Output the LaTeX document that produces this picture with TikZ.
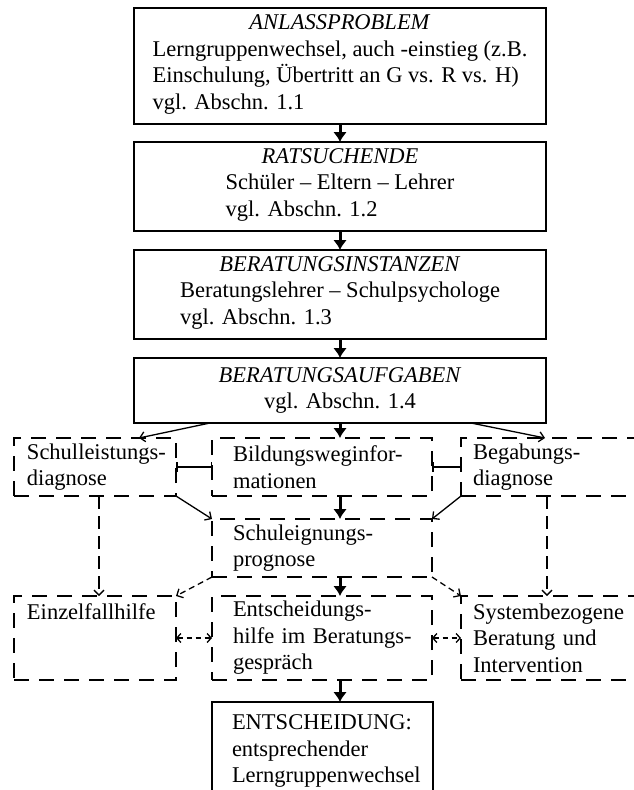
\documentclass[tikz,border=0pt]{standalone}
\usepackage{fontspec}
\setmainfont{Liberation Serif}
\usetikzlibrary{arrows.meta}
\hyphenpenalty=10000

\tikzset{
  solidbox/.style={draw, line width=1.8pt, inner sep=0pt, outer sep=0pt},
  dashbox/.style={draw, line width=1.6pt, dash pattern=on 15pt off 10pt,
    anchor=north west, align=left, inner sep=0pt, outer sep=0pt},
  bigarrow/.style={line width=3pt, -{Latex[length=10pt,width=14pt]}},
  thinarrow/.style={line width=1.3pt, -{Straight Barb[length=5pt,width=10pt]}},
  longdash/.style={thinarrow, dash pattern=on 13pt off 7pt},
  shortdash/.style={thinarrow, dash pattern=on 6pt off 4pt},
  bothdash/.style={line width=1.3pt, dash pattern=on 5pt off 4pt,
    {Straight Barb[length=4pt,width=9pt]}-{Straight Barb[length=4pt,width=9pt]}},
  barline/.style={line width=1.5pt, {Bar[width=10pt]}-{Bar[width=10pt]}}
}

\begin{document}
\begin{tikzpicture}[x=1pt, y=-1pt, font=\fontsize{22.5}{26.5}\selectfont]
  \path[use as bounding box, clip] (0,0) rectangle (634,790);

  \node[solidbox, anchor=north, minimum width=412pt, minimum height=116pt, align=center] (anl) at (340,8)
    {\textit{ANLASSPROBLEM}\\
     \begin{tabular}[t]{@{}l@{}}Lerngruppenwechsel, auch -einstieg (z.B.\\
     Einschulung, Übertritt an G vs. R vs. H)\\ vgl. Abschn. 1.1\end{tabular}};
  \node[solidbox, anchor=north, minimum width=412pt, minimum height=89pt, align=center] (rat) at (340,142)
    {\textit{RATSUCHENDE}\\
     \begin{tabular}[t]{@{}l@{}}Schüler -- Eltern -- Lehrer\\ vgl. Abschn. 1.2\end{tabular}};
  \node[solidbox, anchor=north, minimum width=412pt, minimum height=89pt, align=center] (ins) at (340,250)
    {\textit{BERATUNGSINSTANZEN}\\
     \begin{tabular}[t]{@{}l@{}}Beratungslehrer -- Schulpsychologe\\ vgl. Abschn. 1.3\end{tabular}};
  \node[solidbox, anchor=north, minimum width=412pt, minimum height=65pt, align=center] (auf) at (340,358)
    {\textit{BERATUNGSAUFGABEN}\\ vgl. Abschn. 1.4};

  \node[dashbox, minimum width=162pt, minimum height=58pt, text width=136pt] (sld) at (14,438)
    {\mbox{Schulleistungs-}\\diagnose};
  \node[dashbox, minimum width=220pt, minimum height=58pt, text width=178pt] (bwi) at (212,438)
    {\mbox{Bildungsweginfor-}\\mationen};
  \node[dashbox, minimum width=199pt, minimum height=58pt, text width=175pt] (bgd) at (461,438)
    {\mbox{Begabungs-}\\diagnose};
  \node[dashbox, minimum width=220pt, minimum height=58pt, text width=178pt] (sep) at (212,519)
    {\mbox{Schuleignungs-}\\prognose};
  \node[dashbox, minimum width=162pt, minimum height=84pt, text width=136pt] (ezh) at (14,596)
    {Einzelfallhilfe\\\mbox{}\\\mbox{}};
  \node[dashbox, minimum width=220pt, minimum height=84pt, text width=178pt] (ehb) at (212,596)
    {\mbox{Entscheidungs-}\\\mbox{hilfe im Beratungs-}\\gespräch};
  \node[dashbox, minimum width=199pt, minimum height=84pt, text width=175pt] (sbb) at (461,596)
    {Systembezogene\\Beratung und\\Intervention};
  \node[solidbox, anchor=north west, align=left, minimum width=221pt, minimum height=98pt, text width=181pt] (ent) at (212,702)
    {ENTSCHEIDUNG:\\entsprechender\\\mbox{Lerngruppenwechsel}};

  \draw[bigarrow] (anl.south) -- (rat.north);
  \draw[bigarrow] (rat.south) -- (ins.north);
  \draw[bigarrow] (ins.south) -- (auf.north);

  \draw[thinarrow] ([xshift=76pt]auf.south west) -- ([xshift=-37pt]sld.north east);
  \draw[bigarrow] (auf.south) -- (auf.south |- bwi.north);
  \draw[thinarrow] ([xshift=-75pt]auf.south east) -- ([xshift=84pt]bgd.north west);

  \draw[barline] (sld.east) -- (bwi.west);
  \draw[barline] (bwi.east) -- (bgd.west);

  \draw[bigarrow] (auf.south |- bwi.south) -- (auf.south |- sep.north);
  \draw[thinarrow] (sld.south east) -- (sep.north west);
  \draw[thinarrow] (bgd.south west) -- (sep.north east);

  \draw[longdash] ([xshift=85pt]sld.south west) -- ([xshift=85pt]ezh.north west);
  \draw[longdash] ([xshift=86pt]bgd.south west) -- ([xshift=86pt]sbb.north west);
  \draw[shortdash] (sep.south west) -- (ezh.north east);
  \draw[shortdash] (sep.south east) -- (sbb.north west);
  \draw[bigarrow] (auf.south |- sep.south) -- (auf.south |- ehb.north);

  \draw[bothdash] (ezh.east) -- (ehb.west);
  \draw[bothdash] (ehb.east) -- (sbb.west);
  \draw[bigarrow] (auf.south |- ehb.south) -- (auf.south |- ent.north);
\end{tikzpicture}
\end{document}
